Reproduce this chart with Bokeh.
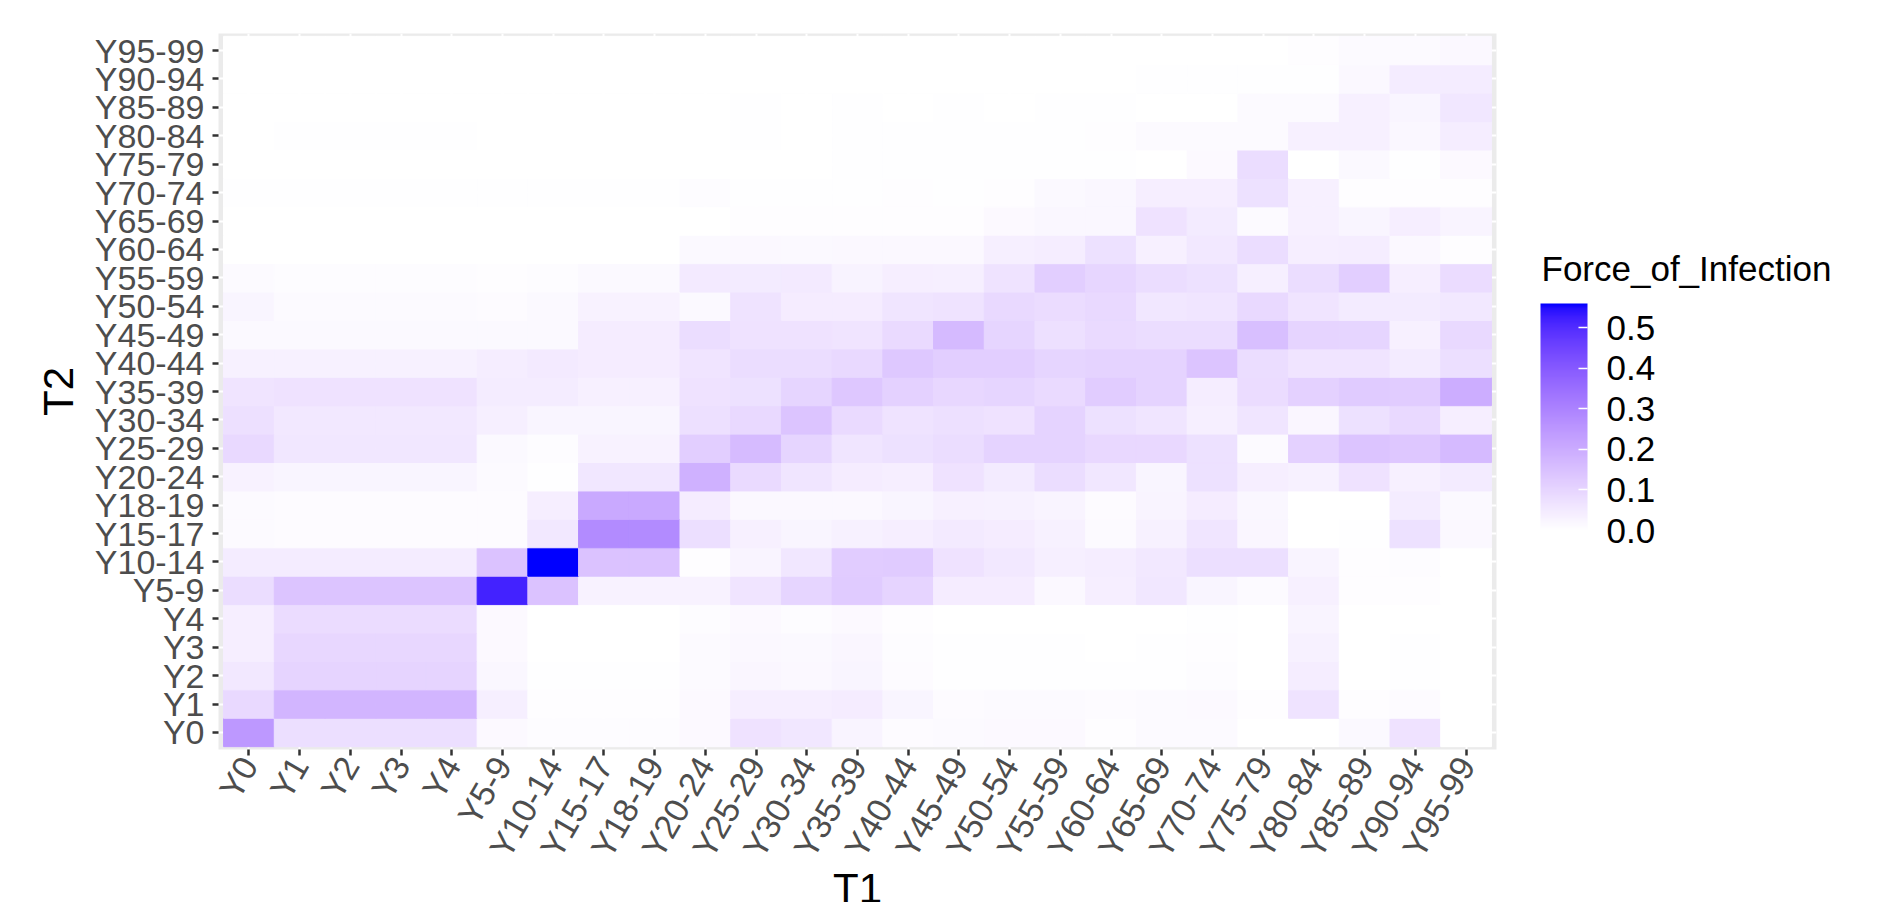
import math
from bokeh.plotting import figure
from bokeh.models import (ColumnDataSource, LinearColorMapper, ColorBar, FixedTicker,
                          PrintfTickFormatter, Label, Title)
from bokeh.transform import transform
from bokeh.embed import file_html
from bokeh.resources import INLINE

age_groups = ["Y0", "Y1", "Y2", "Y3", "Y4", "Y5-9", "Y10-14", "Y15-17", "Y18-19",
              "Y20-24", "Y25-29", "Y30-34", "Y35-39", "Y40-44", "Y45-49", "Y50-54",
              "Y55-59", "Y60-64", "Y65-69", "Y70-74", "Y75-79", "Y80-84", "Y85-89",
              "Y90-94", "Y95-99"]

# Force of infection, one list per T2 row; values along T1 (Y0 ... Y95-99)
t2_Y0 = [0.249, 0.078, 0.078, 0.078, 0.078, 0.014, 0.008, 0.008, 0.008, 0.014, 0.069, 0.059, 0.028,
         0.009, 0.011, 0.014, 0.014, 0.006, 0.011, 0.011, 0.000, 0.000, 0.017, 0.069, 0.000]
t2_Y1 = [0.090, 0.178, 0.178, 0.178, 0.178, 0.038, 0.006, 0.006, 0.006, 0.014, 0.040, 0.040, 0.045,
         0.026, 0.009, 0.012, 0.011, 0.009, 0.011, 0.015, 0.006, 0.066, 0.006, 0.009, 0.000]
t2_Y2 = [0.055, 0.104, 0.104, 0.104, 0.104, 0.020, 0.004, 0.004, 0.004, 0.012, 0.022, 0.018, 0.025,
         0.009, 0.003, 0.004, 0.004, 0.004, 0.004, 0.008, 0.000, 0.043, 0.000, 0.004, 0.002]
t2_Y3 = [0.040, 0.095, 0.095, 0.095, 0.095, 0.014, 0.002, 0.002, 0.002, 0.011, 0.019, 0.016, 0.022,
         0.008, 0.003, 0.004, 0.003, 0.002, 0.004, 0.006, 0.000, 0.033, 0.000, 0.003, 0.002]
t2_Y4 = [0.040, 0.085, 0.085, 0.085, 0.085, 0.014, 0.002, 0.002, 0.002, 0.008, 0.014, 0.008, 0.014,
         0.006, 0.002, 0.002, 0.002, 0.002, 0.002, 0.003, 0.000, 0.028, 0.000, 0.002, 0.000]
t2_Y5_9 = [0.083, 0.140, 0.140, 0.140, 0.140, 0.520, 0.145, 0.031, 0.031, 0.031, 0.064, 0.102, 0.126,
           0.104, 0.045, 0.045, 0.019, 0.040, 0.057, 0.026, 0.012, 0.036, 0.005, 0.005, 0.000]
t2_Y10_14 = [0.047, 0.047, 0.047, 0.047, 0.047, 0.145, 0.560, 0.145, 0.145, 0.005, 0.028, 0.059, 0.121,
             0.126, 0.069, 0.055, 0.038, 0.043, 0.055, 0.078, 0.078, 0.028, 0.005, 0.007, 0.000]
t2_Y15_17 = [0.012, 0.009, 0.009, 0.009, 0.009, 0.009, 0.055, 0.282, 0.282, 0.078, 0.036, 0.026, 0.033,
             0.040, 0.052, 0.045, 0.033, 0.012, 0.033, 0.062, 0.024, 0.000, 0.003, 0.073, 0.019]
t2_Y18_19 = [0.012, 0.009, 0.009, 0.009, 0.009, 0.009, 0.040, 0.206, 0.206, 0.045, 0.019, 0.019, 0.019,
             0.026, 0.036, 0.033, 0.028, 0.010, 0.028, 0.045, 0.021, 0.000, 0.002, 0.047, 0.017]
t2_Y20_24 = [0.031, 0.026, 0.026, 0.026, 0.026, 0.012, 0.003, 0.057, 0.057, 0.187, 0.088, 0.062, 0.045,
             0.040, 0.069, 0.050, 0.083, 0.057, 0.026, 0.073, 0.040, 0.033, 0.069, 0.036, 0.050]
t2_Y25_29 = [0.090, 0.057, 0.057, 0.057, 0.057, 0.017, 0.008, 0.031, 0.031, 0.116, 0.164, 0.102, 0.062,
             0.073, 0.081, 0.107, 0.107, 0.092, 0.092, 0.073, 0.012, 0.111, 0.140, 0.135, 0.166]
t2_Y30_34 = [0.076, 0.055, 0.055, 0.055, 0.055, 0.038, 0.026, 0.026, 0.026, 0.076, 0.090, 0.140, 0.088,
             0.066, 0.076, 0.069, 0.107, 0.073, 0.062, 0.038, 0.062, 0.024, 0.073, 0.090, 0.040]
t2_Y35_39 = [0.064, 0.069, 0.069, 0.069, 0.069, 0.047, 0.047, 0.036, 0.036, 0.069, 0.073, 0.102, 0.135,
             0.111, 0.095, 0.102, 0.088, 0.121, 0.107, 0.043, 0.085, 0.111, 0.126, 0.121, 0.199]
t2_Y40_44 = [0.033, 0.033, 0.033, 0.033, 0.033, 0.043, 0.052, 0.045, 0.045, 0.064, 0.083, 0.083, 0.090,
             0.133, 0.116, 0.116, 0.102, 0.107, 0.107, 0.140, 0.083, 0.064, 0.064, 0.050, 0.078]
t2_Y45_49 = [0.017, 0.017, 0.017, 0.017, 0.017, 0.017, 0.017, 0.045, 0.045, 0.081, 0.069, 0.069, 0.064,
             0.088, 0.166, 0.102, 0.076, 0.088, 0.081, 0.081, 0.154, 0.104, 0.102, 0.036, 0.090]
t2_Y50_54 = [0.026, 0.012, 0.012, 0.012, 0.012, 0.010, 0.017, 0.031, 0.031, 0.017, 0.066, 0.045, 0.045,
             0.062, 0.066, 0.090, 0.085, 0.090, 0.057, 0.062, 0.090, 0.064, 0.050, 0.050, 0.055]
t2_Y55_59 = [0.012, 0.007, 0.007, 0.007, 0.007, 0.005, 0.007, 0.017, 0.017, 0.052, 0.050, 0.052, 0.030,
             0.040, 0.038, 0.066, 0.116, 0.097, 0.083, 0.073, 0.038, 0.081, 0.116, 0.040, 0.085]
t2_Y60_64 = [0.001, 0.001, 0.001, 0.001, 0.001, 0.001, 0.001, 0.001, 0.001, 0.017, 0.019, 0.017, 0.019,
             0.019, 0.019, 0.038, 0.043, 0.073, 0.036, 0.055, 0.083, 0.040, 0.043, 0.019, 0.006]
t2_Y65_69 = [0.002, 0.002, 0.002, 0.002, 0.002, 0.002, 0.002, 0.002, 0.002, 0.002, 0.006, 0.006, 0.006,
             0.006, 0.006, 0.014, 0.021, 0.021, 0.069, 0.050, 0.012, 0.036, 0.026, 0.040, 0.028]
t2_Y70_74 = [0.003, 0.003, 0.003, 0.003, 0.003, 0.003, 0.003, 0.003, 0.003, 0.007, 0.004, 0.004, 0.004,
             0.006, 0.004, 0.006, 0.017, 0.021, 0.040, 0.040, 0.073, 0.036, 0.006, 0.006, 0.006]
t2_Y75_79 = [0.001, 0.001, 0.001, 0.001, 0.001, 0.001, 0.001, 0.001, 0.001, 0.001, 0.001, 0.001, 0.004,
             0.004, 0.004, 0.004, 0.004, 0.004, 0.000, 0.014, 0.081, 0.001, 0.017, 0.004, 0.014]
t2_Y80_84 = [0.000, 0.004, 0.004, 0.004, 0.004, 0.001, 0.001, 0.001, 0.001, 0.001, 0.004, 0.001, 0.004,
             0.003, 0.003, 0.003, 0.003, 0.005, 0.012, 0.012, 0.012, 0.036, 0.036, 0.021, 0.043]
t2_Y85_89 = [0.000, 0.000, 0.002, 0.002, 0.002, 0.000, 0.000, 0.000, 0.000, 0.000, 0.004, 0.001, 0.004,
             0.001, 0.003, 0.001, 0.003, 0.003, 0.002, 0.002, 0.012, 0.012, 0.036, 0.026, 0.057]
t2_Y90_94 = [0.000, 0.000, 0.000, 0.000, 0.000, 0.000, 0.000, 0.000, 0.000, 0.000, 0.000, 0.000, 0.000,
             0.000, 0.000, 0.000, 0.000, 0.000, 0.003, 0.003, 0.003, 0.003, 0.019, 0.047, 0.047]
t2_Y95_99 = [0.000, 0.000, 0.000, 0.000, 0.000, 0.000, 0.000, 0.000, 0.000, 0.000, 0.000, 0.000, 0.000,
             0.000, 0.000, 0.000, 0.000, 0.000, 0.000, 0.000, 0.002, 0.005, 0.012, 0.012, 0.019]

rows = [t2_Y0, t2_Y1, t2_Y2, t2_Y3, t2_Y4, t2_Y5_9, t2_Y10_14, t2_Y15_17, t2_Y18_19,
        t2_Y20_24, t2_Y25_29, t2_Y30_34, t2_Y35_39, t2_Y40_44, t2_Y45_49, t2_Y50_54,
        t2_Y55_59, t2_Y60_64, t2_Y65_69, t2_Y70_74, t2_Y75_79, t2_Y80_84, t2_Y85_89,
        t2_Y90_94, t2_Y95_99]

legend_ticks = [0.0, 0.1, 0.2, 0.3, 0.4, 0.5]


# ---- white -> blue gradient interpolated in CIE Lab (like ggplot2) ----
def _to_lin(c):
    c = c / 255.0
    return c / 12.92 if c <= 0.04045 else ((c + 0.055) / 1.055) ** 2.4


def _to_srgb(c):
    c = min(max(c, 0.0), 1.0)
    v = 12.92 * c if c <= 0.0031308 else 1.055 * c ** (1 / 2.4) - 0.055
    return int(round(v * 255))


WX, WY, WZ = 0.95047, 1.0, 1.08883


def _f(t):
    d = 6 / 29
    return t ** (1 / 3) if t > d ** 3 else t / (3 * d * d) + 4 / 29


def _finv(t):
    d = 6 / 29
    return t ** 3 if t > d else 3 * d * d * (t - 4 / 29)


def rgb_to_lab(r, g, b):
    r, g, b = _to_lin(r), _to_lin(g), _to_lin(b)
    x = 0.4124564 * r + 0.3575761 * g + 0.1804375 * b
    y = 0.2126729 * r + 0.7151522 * g + 0.0721750 * b
    z = 0.0193339 * r + 0.1191920 * g + 0.9503041 * b
    fx, fy, fz = _f(x / WX), _f(y / WY), _f(z / WZ)
    return 116 * fy - 16, 500 * (fx - fy), 200 * (fy - fz)


def lab_to_hex(L, a, b):
    fy = (L + 16) / 116
    fx = fy + a / 500
    fz = fy - b / 200
    x, y, z = WX * _finv(fx), WY * _finv(fy), WZ * _finv(fz)
    r = 3.2404542 * x - 1.5371385 * y - 0.4985314 * z
    g = -0.9692660 * x + 1.8760108 * y + 0.0415560 * z
    bb = 0.0556434 * x - 0.2040259 * y + 1.0572252 * z
    return "#%02x%02x%02x" % (_to_srgb(r), _to_srgb(g), _to_srgb(bb))


lab_lo = rgb_to_lab(255, 255, 255)
lab_hi = rgb_to_lab(0, 0, 255)
palette = []
for k in range(256):
    t = k / 255
    palette.append(lab_to_hex(*[lo + (hi - lo) * t for lo, hi in zip(lab_lo, lab_hi)]))

all_vals = [v for r in rows for v in r]
mapper = LinearColorMapper(palette=palette, low=min(all_vals), high=max(all_vals))

xs, ys, vs = [], [], []
for j, r in enumerate(rows):
    for i, v in enumerate(r):
        xs.append(i)
        ys.append(j)
        vs.append(v)
src = ColumnDataSource(dict(x=xs, y=ys, v=vs))

FONT = "Liberation Sans"
n = len(age_groups)

p = figure(width=1888, height=902, x_range=(-0.6, n - 0.4), y_range=(-0.6, n - 0.4),
           output_backend="svg", toolbar_location=None,
           min_border_left=218, min_border_right=392, min_border_top=33, min_border_bottom=153)
p.background_fill_color = "#EBEBEB"
p.border_fill_color = "white"
p.outline_line_color = None

p.rect(x="x", y="y", width=1, height=1, source=src,
       fill_color=transform("v", mapper), line_color=transform("v", mapper), line_width=1)

ticks = list(range(n))
labels = {i: age_groups[i] for i in range(n)}
for ax in (p.xaxis[0], p.yaxis[0]):
    ax.ticker = FixedTicker(ticks=ticks)
    ax.major_label_overrides = labels
    ax.axis_line_color = None
    ax.major_tick_line_color = "#333333"
    ax.major_tick_line_width = 2.5
    ax.major_tick_out = 6
    ax.major_tick_in = 0
    ax.minor_tick_line_color = None
    ax.major_label_text_font = FONT
    ax.major_label_text_font_size = "34px"
    ax.major_label_text_color = "#4D4D4D"

p.xaxis.major_label_orientation = math.pi / 3
p.xaxis.major_label_standoff = 4
p.yaxis.major_label_standoff = 8

p.yaxis.axis_label = "T2"
p.yaxis.axis_label_text_font = FONT
p.yaxis.axis_label_text_font_size = "42px"
p.yaxis.axis_label_text_font_style = "normal"
p.yaxis.axis_label_text_color = "black"
p.yaxis.axis_label_standoff = 10

for g in (p.xgrid[0], p.ygrid[0]):
    g.grid_line_color = "white"
    g.grid_line_width = 2

# x-axis title (partly cut by the bottom edge, as in the reference)
t1 = Title(text="T1", align="center", vertical_align="middle", text_font=FONT,
           text_font_size="42px", text_font_style="normal", text_color="black",
           standoff=-26, offset=0)
p.add_layout(t1, "below")

# legend title, placed in the right side panel (innermost slot)
leg_title = Label(x=45, y=481, x_units="screen", y_units="screen", text="Force_of_Infection",
                  text_font=FONT, text_font_size="35px", text_color="black",
                  text_align="left", text_baseline="alphabetic")
p.add_layout(leg_title, "right")

# colour bar, shifted back over the title's slot
cb = ColorBar(color_mapper=mapper, ticker=FixedTicker(ticks=legend_ticks),
              formatter=PrintfTickFormatter(format="%.1f"),
              orientation="vertical", width=47, height=227, location=(-246, 219),
              padding=0, margin=0,
              major_label_text_font=FONT, major_label_text_font_size="35px",
              major_label_text_color="black", label_standoff=19,
              major_tick_out=0, major_tick_in=9, major_tick_line_color="white",
              major_tick_line_width=1.5, minor_tick_line_color=None,
              bar_line_color=None, border_line_color=None, background_fill_color="white")
p.add_layout(cb, "right")

open("out.html", "w").write(file_html(p, INLINE))
